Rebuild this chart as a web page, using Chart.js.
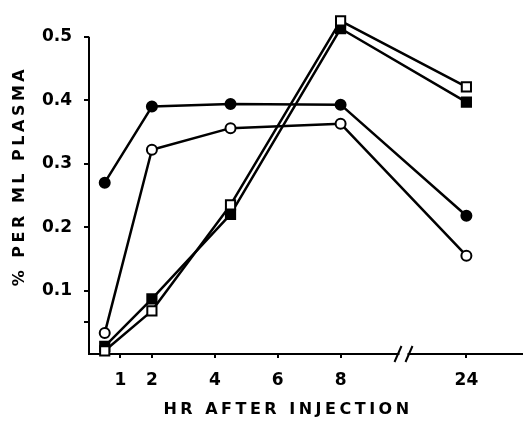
<!DOCTYPE html>
<html>
<head>
<meta charset="utf-8">
<script src="https://cdn.jsdelivr.net/npm/chart.js@4"></script>
<style>
  html, body { margin: 0; padding: 0; background: #fff; }
  #wrap { width: 523px; height: 421px; }
</style>
</head>
<body>
<div id="wrap"><canvas id="plasmaChart" width="523" height="421"></canvas></div>
<script>
// ===== Data =====
const hours = [0.5, 2, 4.5, 8, 24];
const filledCircles = [0.27, 0.39, 0.394, 0.393, 0.218];
const openCircles = [0.033, 0.322, 0.356, 0.363, 0.155];
const filledSquares = [0.012, 0.087, 0.22, 0.513, 0.397];
const openSquares = [0.005, 0.068, 0.235, 0.525, 0.421];
const xTickHours = [1, 2, 4, 6, 8, 24];
const yTickValues = [0.05, 0.1, 0.2, 0.3, 0.4, 0.5];
const Y_AXIS_TOP = 0.5;

// broken axis: 24 hr sits at position 12, break drawn at 10
const axisPos = h => (h > 8 ? h - 12 : h);
const BREAK_AT = 10;

const toPoints = vals => hours.map((h, i) => ({ x: axisPos(h), y: vals[i] }));

function series(label, vals, style, filled, order) {
  return {
    label,
    order,
    data: toPoints(vals),
    borderColor: '#000',
    borderWidth: 2.5,
    borderJoinStyle: 'round',
    pointStyle: style,
    pointRadius: style === 'rect' ? 6.5 : 5,
    pointBorderWidth: 2,
    pointBackgroundColor: filled ? '#000' : '#fff',
    pointBorderColor: '#000',
    clip: false
  };
}

// ===== y axis line (stops at 0.5), break marks, axis titles =====
const extras = {
  id: 'extras',
  beforeDatasetsDraw(chart) {
    const ctx = chart.ctx;
    const ys = chart.scales.y;
    const x0 = chart.chartArea.left;
    ctx.save();
    ctx.strokeStyle = '#000';
    ctx.lineWidth = 2;
    ctx.beginPath();
    ctx.moveTo(x0, ys.getPixelForValue(Y_AXIS_TOP));
    ctx.lineTo(x0, chart.chartArea.bottom + 1);
    ctx.stroke();
    ctx.restore();
  },
  afterDraw(chart) {
    const ctx = chart.ctx;
    const xs = chart.scales.x;
    const base = chart.chartArea.bottom;
    const px = xs.getPixelForValue(BREAK_AT);

    ctx.save();
    ctx.fillStyle = '#fff';
    ctx.fillRect(px - 4, base - 3, 8, 6);
    ctx.strokeStyle = '#000';
    ctx.lineWidth = 2;
    ctx.beginPath();
    ctx.moveTo(px - 9, base + 8); ctx.lineTo(px - 2, base - 8);
    ctx.moveTo(px + 2, base + 8); ctx.lineTo(px + 9, base - 8);
    ctx.stroke();

    ctx.fillStyle = '#000';
    ctx.font = 'bold 16px "DejaVu Sans"';
    ctx.letterSpacing = '3.5px';
    ctx.textAlign = 'center';
    ctx.textBaseline = 'middle';
    ctx.fillText('HR AFTER INJECTION', 288, 410);

    ctx.translate(20, 176);
    ctx.rotate(-Math.PI / 2);
    ctx.fillText('% PER ML PLASMA', 0, 0);
    ctx.restore();
  }
};

new Chart(document.getElementById('plasmaChart'), {
  type: 'scatter',
  data: {
    datasets: [
      series('filled circles', filledCircles, 'circle', true, 2),
      series('open circles', openCircles, 'circle', false, 3),
      series('filled squares', filledSquares, 'rect', true, 1),
      series('open squares', openSquares, 'rect', false, 0)
    ]
  },
  options: {
    responsive: false,
    animation: false,
    showLine: true,
    layout: { autoPadding: false, padding: { top: 18, right: 0, bottom: 0, left: 0 } },
    plugins: { legend: { display: false }, tooltip: { enabled: false } },
    scales: {
      x: {
        type: 'linear',
        min: 0,
        max: 13.8,
        afterFit: s => { s.height = 67; },
        afterBuildTicks: s => { s.ticks = xTickHours.map(h => ({ value: axisPos(h) })); },
        ticks: {
          color: '#000',
          font: { family: 'DejaVu Sans', size: 17, weight: 'bold' },
          padding: 12,
          maxRotation: 0,
          autoSkip: false,
          callback: (v, i) => String(xTickHours[i])
        },
        grid: { drawOnChartArea: false, color: '#000', lineWidth: 2, tickLength: 4 },
        border: { color: '#000', width: 2 }
      },
      y: {
        min: 0,
        max: 0.523,
        afterFit: s => { s.width = 89; },
        afterBuildTicks: s => { s.ticks = yTickValues.map(v => ({ value: v })); },
        ticks: {
          color: '#000',
          font: { family: 'DejaVu Sans', size: 17, weight: 'bold' },
          padding: 12,
          autoSkip: false,
          callback: v => (v >= 0.1 ? v.toFixed(1) : '')
        },
        grid: { drawOnChartArea: false, color: '#000', lineWidth: 2, tickLength: 5 },
        border: { display: false }
      }
    }
  },
  plugins: [extras]
});
</script>
</body>
</html>
